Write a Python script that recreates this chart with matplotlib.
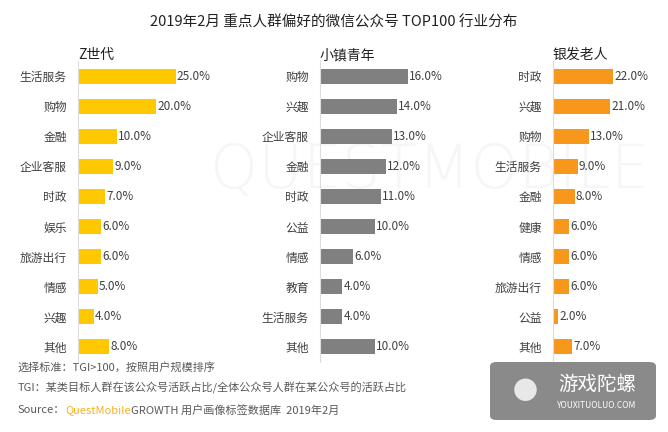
import matplotlib
matplotlib.use("Agg")
import matplotlib.pyplot as plt
from matplotlib.patches import FancyBboxPatch

plt.rcParams['font.family'] = ['Noto Sans CJK SC', 'DejaVu Sans']

title = "2019年2月 重点人群偏好的微信公众号 TOP100 行业分布"

z_names = ["生活服务", "购物", "金融", "企业客服", "时政", "娱乐", "旅游出行", "情感", "兴趣", "其他"]
z_vals = [25.0, 20.0, 10.0, 9.0, 7.0, 6.0, 6.0, 5.0, 4.0, 8.0]

town_names = ["购物", "兴趣", "企业客服", "金融", "时政", "公益", "情感", "教育", "生活服务", "其他"]
town_vals = [16.0, 14.0, 13.0, 12.0, 11.0, 10.0, 6.0, 4.0, 4.0, 10.0]

silver_names = ["时政", "兴趣", "购物", "生活服务", "金融", "健康", "情感", "旅游出行", "公益", "其他"]
silver_vals = [22.0, 21.0, 13.0, 9.0, 8.0, 6.0, 6.0, 6.0, 2.0, 7.0]

groups = ["Z世代", "小镇青年", "银发老人"]
colors = ["#FFC800", "#808080", "#F7981D"]

W, H = 668, 432
fig = plt.figure(figsize=(W / 100, H / 100), dpi=100)

# faint watermark, kept behind everything
fig.text(210 / W, 1 - 172 / H, "QUESTMOBILE", fontsize=44, color="#f6f6f6",
         ha="left", va="center", family="DejaVu Sans", fontweight="light", zorder=-10)

fig.text(334 / W, 1 - 22 / H, title, fontsize=10.5, color="#222222", ha="center", va="center")

# (left px, width px, xmax)
panels = [(78, 117, 30), (320, 110, 20), (553, 82, 30)]
data = [(z_names, z_vals), (town_names, town_vals), (silver_names, silver_vals)]
top, bottom = 61, 362

for (left, width, xmax), (names, vals), grp, col in zip(panels, data, groups, colors):
    ax = fig.add_axes([left / W, 1 - bottom / H, width / W, (bottom - top) / H])
    ax.patch.set_alpha(0)
    y = range(len(names))
    ax.barh(y, vals, height=0.5, color=col)
    for yi, v in zip(y, vals):
        ax.text(v + xmax * 0.012, yi, f"{v:.1f}%", va="center", ha="left",
                fontsize=8.5, color="#404040")
    ax.set_xlim(0, xmax)
    ax.set_ylim(len(names) - 0.5, -0.5)
    ax.set_yticks(list(y))
    ax.set_yticklabels(names, fontsize=8.5, color="#404040")
    ax.set_xticks([])
    ax.tick_params(axis="y", length=0, pad=8)
    for s in ["top", "right", "bottom"]:
        ax.spines[s].set_visible(False)
    ax.spines["left"].set_color("#dddddd")
    ax.spines["left"].set_linewidth(0.8)
    fig.text(left / W, 1 - 55 / H, grp, fontsize=10, color="#222222", ha="left", va="center")

note_col = "#595959"
fig.text(18 / W, 1 - 367 / H, "选择标准：TGI>100，按照用户规模排序", fontsize=8, color=note_col, va="center")
fig.text(18 / W, 1 - 388 / H, "TGI：某类目标人群在该公众号活跃占比/全体公众号人群在某公众号的活跃占比",
         fontsize=8, color=note_col, va="center")

fig.canvas.draw()
r = fig.canvas.get_renderer()
x = 18
for part, c in [("Source：", note_col), ("QuestMobile", "#F5B323"), ("GROWTH 用户画像标签数据库  2019年2月", note_col)]:
    t = fig.text(x / W, 1 - 410 / H, part, fontsize=8, color=c, va="center")
    x += t.get_window_extent(r).width

# logo box
box = FancyBboxPatch((490 / W, 1 - 420 / H), 166 / W, 58 / H,
                     boxstyle="round,pad=0,rounding_size=0.01", transform=fig.transFigure,
                     facecolor="#8a8a8a", edgecolor="none")
fig.patches.append(box)
fig.text(597 / W, 1 - 384 / H, "游戏陀螺", fontsize=14, color="white", ha="center", va="center")
fig.text(597 / W, 1 - 405 / H, "YOUXITUOLUO.COM", fontsize=6, color="white", ha="center", va="center")
fig.text(525 / W, 1 - 392 / H, "●", fontsize=18, color="#e8e8e8", ha="center", va="center")

fig.savefig("out.png", dpi=100)
